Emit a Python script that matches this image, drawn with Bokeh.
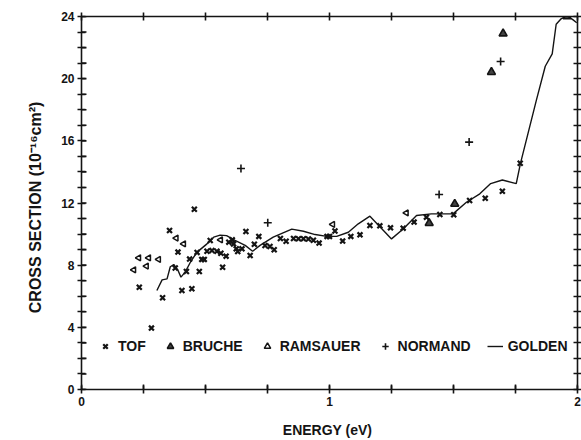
import numpy as np
from bokeh.plotting import figure
from bokeh.models import (Range1d, LinearAxis, Legend, LegendItem, FixedTicker,
                          CustomJSTickFormatter)
from bokeh.embed import file_html
from bokeh.resources import INLINE

# ---- data ----
tof_e = [0.233, 0.282, 0.327, 0.355, 0.378, 0.389, 0.405, 0.423, 0.436, 0.445,
         0.455, 0.466, 0.475, 0.485, 0.495, 0.506, 0.519, 0.526, 0.546, 0.562,
         0.569, 0.583, 0.594, 0.608, 0.613, 0.624, 0.630, 0.647, 0.663, 0.680,
         0.697, 0.715, 0.740, 0.760, 0.777, 0.802, 0.825, 0.855, 0.875, 0.895,
         0.915, 0.935, 0.958, 0.990, 1.000, 1.022, 1.053, 1.086, 1.123, 1.163,
         1.203, 1.246, 1.297, 1.341, 1.391, 1.445, 1.501, 1.565, 1.628, 1.697,
         1.769]
tof_s = [6.58, 3.95, 5.90, 10.23, 7.82, 8.84, 6.37, 7.59, 8.39, 6.48,
         11.60, 8.82, 7.59, 8.37, 8.37, 8.90, 9.59, 8.94, 8.90, 8.77,
         7.87, 8.58, 9.48, 9.63, 9.37, 9.05, 8.88, 9.05, 10.17, 8.62,
         9.35, 9.85, 9.27, 9.20, 8.99, 9.72, 9.54, 9.72, 9.70, 9.70,
         9.68, 9.60, 9.42, 9.85, 9.85, 10.20, 9.55, 9.85, 9.95, 10.55,
         10.53, 10.40, 10.38, 10.77, 11.09, 11.26, 11.24, 12.16, 12.31, 12.76,
         14.56]

bruche_e = [1.402, 1.505, 1.653, 1.700, 1.958]
bruche_s = [10.70, 11.94, 20.42, 22.90, 24.00]

ramsauer_e = [0.211, 0.231, 0.262, 0.271, 0.311, 0.382, 0.412, 0.561, 1.013, 1.310]
ramsauer_s = [7.70, 8.47, 7.94, 8.47, 8.37, 9.74, 9.37, 9.63, 10.62, 11.36]

normand_e = [0.643, 0.751, 1.442, 1.563, 1.690]
normand_s = [14.22, 10.73, 12.55, 15.92, 21.10]

golden_e = [0.304, 0.325, 0.345, 0.358, 0.372, 0.388, 0.401, 0.418, 0.439, 0.466,
            0.506, 0.533, 0.559, 0.585, 0.619, 0.660, 0.690, 0.720, 0.773, 0.848,
            0.895, 0.942, 0.989, 1.029, 1.076, 1.116, 1.163, 1.250, 1.297, 1.351,
            1.411, 1.498, 1.552, 1.606, 1.650, 1.697, 1.753, 1.770, 1.800, 1.834,
            1.870, 1.898, 1.914, 1.934, 1.957, 1.981, 1.997]
golden_s = [6.37, 7.05, 7.12, 7.90, 8.04, 7.70, 7.23, 7.55, 8.19, 8.84,
            9.37, 9.80, 9.93, 9.90, 9.59, 9.27, 8.90, 9.27, 9.80, 10.32,
            10.18, 9.97, 9.85, 9.85, 10.12, 10.66, 11.15, 9.69, 10.33, 11.20,
            11.30, 11.30, 12.05, 12.59, 13.25, 13.48, 13.25, 14.55, 16.45, 18.60,
            20.80, 21.60, 23.50, 23.85, 24.05, 23.80, 23.60]

x_major = [0, 1, 2]
x_minor = [0.25, 0.5, 0.75, 1.25, 1.5, 1.75]
y_major = [0, 4, 8, 12, 16, 20, 24]
y_minor = [1, 2, 3, 5, 6, 7, 9, 10, 11, 13, 14, 15, 17, 18, 19, 21, 22, 23]

INK = "#141414"
FONT = "Liberation Sans"
X_MAX, Y_MAX = 2.0, 24.0

p = figure(width=581, height=440, output_backend="svg", toolbar_location=None,
           x_range=Range1d(0, X_MAX), y_range=Range1d(0, Y_MAX),
           x_axis_location=None, y_axis_location=None,
           min_border_left=81, min_border_right=3, min_border_top=16,
           min_border_bottom=51, outline_line_color=None)
p.grid.visible = False
p.background_fill_color = "white"
p.border_fill_color = "white"


def tick_axis(ticks, minor):
    """Frame edge with crossing ticks, no text."""
    ax = LinearAxis(ticker=FixedTicker(ticks=ticks, minor_ticks=minor),
                    formatter=CustomJSTickFormatter(code="return ''"))
    ax.axis_line_color = INK
    ax.axis_line_width = 1.6
    ax.major_tick_line_color = INK
    ax.minor_tick_line_color = INK
    ax.major_tick_line_width = 1.6
    ax.minor_tick_line_width = 1.6
    ax.major_tick_in = 4
    ax.major_tick_out = 4
    ax.minor_tick_in = 4
    ax.minor_tick_out = 4
    ax.major_label_standoff = 0
    return ax


def label_axis(ticks, title, title_size, label_standoff, title_standoff):
    """Tick labels and axis title only."""
    ax = LinearAxis(ticker=FixedTicker(ticks=ticks),
                    formatter=CustomJSTickFormatter(code="return String(Math.round(tick))"))
    ax.axis_line_color = None
    ax.major_tick_line_color = None
    ax.minor_tick_line_color = None
    ax.major_tick_in = 0
    ax.major_tick_out = 0
    ax.minor_tick_in = 0
    ax.minor_tick_out = 0
    ax.major_label_text_font = FONT
    ax.major_label_text_font_style = "bold"
    ax.major_label_text_font_size = "12px"
    ax.major_label_text_color = INK
    ax.major_label_standoff = label_standoff
    ax.axis_label = title
    ax.axis_label_text_font = FONT
    ax.axis_label_text_font_style = "bold"
    ax.axis_label_text_font_size = title_size
    ax.axis_label_text_color = INK
    ax.axis_label_standoff = title_standoff
    return ax


p.add_layout(tick_axis(x_major, x_minor), "below")
p.add_layout(label_axis(x_major, "ENERGY  (eV)", "14px", 3, 13), "below")
p.add_layout(tick_axis(y_major, y_minor), "left")
p.add_layout(label_axis(y_major, "CROSS  SECTION  (10\u207b\u00b9\u2076cm\u00b2)",
                        "16px", 3, 14), "left")
p.add_layout(tick_axis(x_major, x_minor), "above")
p.add_layout(tick_axis(y_major, y_minor), "right")

# inward tick marks on the bottom and left edges, derived from the tick lists
all_x = sorted(x_major + x_minor)
all_y = sorted(y_major + y_minor)
tick_len_x = X_MAX * 5.0 / 497.0   # ~5 px in data units
tick_len_y = Y_MAX * 5.0 / 373.0
p.segment(x0=all_x, y0=[0] * len(all_x), x1=all_x, y1=[tick_len_y] * len(all_x),
          line_color=INK, line_width=1.6)
p.segment(x0=[0] * len(all_y), y0=all_y, x1=[tick_len_x] * len(all_y), y1=all_y,
          line_color=INK, line_width=1.6)

r_gold = p.line(golden_e, golden_s, line_color=INK, line_width=1.4)
r_tof = p.scatter(tof_e, tof_s, marker="x", size=7, line_color=INK, line_width=2.2)
r_bru = p.scatter(bruche_e, bruche_s, marker="triangle", size=8, line_color=INK,
                  fill_color=INK, fill_alpha=0.8, line_width=1.6)
r_ram = p.scatter(ramsauer_e, ramsauer_s, marker="triangle", angle=np.pi / 2,
                  size=6, line_color=INK, fill_color="white", line_width=1.5)
r_nor = p.scatter(normand_e, normand_s, marker="cross", size=8, line_color=INK,
                  line_width=1.6)

legend = Legend(items=[
    LegendItem(label="TOF", renderers=[r_tof]),
    LegendItem(label="BRUCHE", renderers=[r_bru]),
    LegendItem(label="RAMSAUER", renderers=[r_ram]),
    LegendItem(label="NORMAND", renderers=[r_nor]),
    LegendItem(label="GOLDEN", renderers=[r_gold]),
], orientation="horizontal", location=(16, 33))
legend.label_text_font = FONT
legend.label_text_font_style = "bold"
legend.label_text_font_size = "14px"
legend.label_text_color = INK
legend.background_fill_alpha = 0
legend.border_line_color = None
legend.spacing = 16
legend.glyph_width = 16
legend.label_standoff = 5
legend.padding = 0
legend.margin = 0
p.add_layout(legend, "center")

open("out.html", "w").write(file_html(p, INLINE))
